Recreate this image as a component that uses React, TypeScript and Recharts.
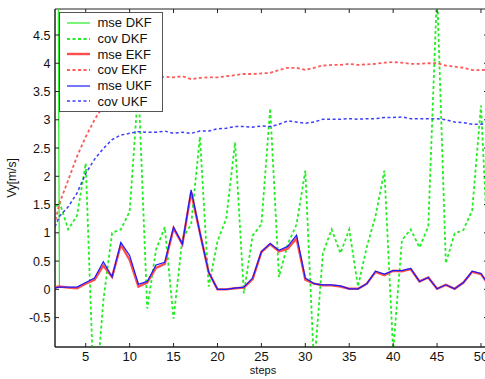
import React from 'react';
import {
  LineChart,
  Line,
  XAxis,
  YAxis,
  Legend,
  ReferenceArea,
} from 'recharts';

// steps along the x axis
const steps = [
  1, 2, 3, 4, 5, 6, 7, 8, 9, 10, 11, 12, 13, 14, 15, 16, 17, 18, 19, 20, 21, 22, 23, 24, 25,
  26, 27, 28, 29, 30, 31, 32, 33, 34, 35, 36, 37, 38, 39, 40, 41, 42, 43, 44, 45, 46, 47, 48,
  49, 50, 51,
];

const mseDKF = [
  40, 0.05, 0.03, 0.02, 0.1, 0.17, 0.42, 0.22, 0.79, 0.52, 0.05, 0.12, 0.38, 0.45, 1.08, 0.8,
  1.72, 1.0, 0.3, 0.0, 0.0, 0.02, 0.03, 0.18, 0.66, 0.8, 0.67, 0.72, 0.9, 0.17, 0.1, 0.07, 0.07,
  0.05, 0.01, 0.01, 0.1, 0.31, 0.25, 0.33, 0.32, 0.36, 0.14, 0.21, 0.01, 0.08, 0.01, 0.12, 0.31,
  0.27, 0.05,
];

const covDKF = [
  1.3, 1.55, 1.06, 1.3, 2.23, -2.2, -0.2, 1.0, 1.06, 1.38, 3.6, -0.34, 0.7, 1.1, -0.52, 0.9,
  1.15, 2.7, 0.05, 0.85, 1.25, 2.6, -0.07, 0.95, 1.15, 3.2, 0.22, 0.8, 1.15, 2.1, -1.4, 0.64,
  1.06, 0.64, 1.06, 0.05, 0.75, 1.3, 2.1, -1.1, 0.87, 1.06, 0.74, 1.11, 5.3, 0.46, 0.99, 1.05,
  1.4, 3.25, 0.0,
];

const mseEKF = [
  0.03, 0.05, 0.03, 0.02, 0.1, 0.17, 0.42, 0.22, 0.79, 0.52, 0.05, 0.12, 0.38, 0.45, 1.08, 0.8,
  1.72, 1.0, 0.3, 0.0, 0.0, 0.02, 0.03, 0.18, 0.66, 0.8, 0.67, 0.72, 0.9, 0.17, 0.1, 0.07, 0.07,
  0.05, 0.01, 0.01, 0.1, 0.31, 0.25, 0.33, 0.32, 0.36, 0.14, 0.21, 0.01, 0.08, 0.01, 0.12, 0.31,
  0.27, 0.05,
];

const covEKF = [
  0.85, 1.52, 1.93, 2.35, 2.7, 3.0, 3.25, 3.45, 3.6, 3.68, 3.72, 3.74, 3.75, 3.76, 3.75, 3.77,
  3.72, 3.74, 3.75, 3.75, 3.77, 3.79, 3.81, 3.81, 3.82, 3.83, 3.88, 3.92, 3.92, 3.88, 3.92, 3.96,
  3.97, 3.97, 3.99, 3.97, 3.98, 3.99, 4.01, 4.02, 4.01, 3.99, 3.99, 4.0, 4.0, 3.96, 3.94, 3.92,
  3.88, 3.88, 3.89,
];

const mseUKF = [
  0.0, 0.04, 0.04, 0.04, 0.12, 0.2, 0.49, 0.22, 0.83, 0.6, 0.09, 0.14, 0.43, 0.48, 1.1, 0.8,
  1.76, 1.0, 0.3, 0.0, 0.0, 0.02, 0.04, 0.2, 0.67, 0.81, 0.69, 0.76, 0.96, 0.2, 0.1, 0.08, 0.08,
  0.06, 0.01, 0.01, 0.1, 0.32, 0.27, 0.33, 0.33, 0.37, 0.14, 0.21, 0.01, 0.08, 0.01, 0.12, 0.32,
  0.28, 0.05,
];

const covUKF = [
  0.93, 1.29, 1.46, 1.7, 2.05, 2.3, 2.49, 2.65, 2.73, 2.76, 2.79, 2.78, 2.78, 2.8, 2.76, 2.78,
  2.76, 2.8, 2.8, 2.84, 2.85, 2.88, 2.88, 2.87, 2.89, 2.88, 2.92, 2.98, 2.96, 2.94, 2.96, 3.01,
  3.01, 3.01, 3.02, 3.01, 3.02, 3.02, 3.04, 3.04, 3.05, 3.02, 3.02, 3.02, 3.02, 3.0, 2.96, 2.95,
  2.92, 2.92, 2.94,
];

const xTicks = [5, 10, 15, 20, 25, 30, 35, 40, 45, 50];
const yTicks = [-0.5, 0, 0.5, 1, 1.5, 2, 2.5, 3, 3.5, 4, 4.5];

const data = steps.map((s, i) => ({
  step: s,
  mseDKF: mseDKF[i],
  covDKF: covDKF[i],
  mseEKF: mseEKF[i],
  covEKF: covEKF[i],
  mseUKF: mseUKF[i],
  covUKF: covUKF[i],
}));

const X_DOMAIN: [number, number] = [1.5, 50.8];
const Y_DOMAIN: [number, number] = [-1.02, 4.96];

const PLOT = { left: 55, right: 488, top: 9, bottom: 347 };
const FONT = '"Liberation Sans", Arial, sans-serif';

const series = [
  { key: 'mseDKF', name: 'mse DKF', color: '#22ee22', width: 1.2, dash: undefined },
  { key: 'covDKF', name: 'cov DKF', color: '#22ee22', width: 1.8, dash: '3 2.5' },
  { key: 'mseEKF', name: 'mse EKF', color: '#ff4d4d', width: 2.4, dash: undefined },
  { key: 'covEKF', name: 'cov EKF', color: '#ff5a5a', width: 1.8, dash: '3 2.5' },
  { key: 'mseUKF', name: 'mse UKF', color: '#1a1aff', width: 1.2, dash: undefined },
  { key: 'covUKF', name: 'cov UKF', color: '#3d3dff', width: 1.5, dash: '3 2.5' },
];

function XTick({ x, payload }: any) {
  return (
    <g>
      <line x1={x} x2={x} y1={PLOT.bottom} y2={PLOT.bottom - 4} stroke="#222" />
      <line x1={x} x2={x} y1={PLOT.top} y2={PLOT.top + 4} stroke="#222" />
      <text x={x} y={PLOT.bottom + 14} textAnchor="middle" fontSize={13} fontFamily={FONT} fill="#111">
        {payload.value}
      </text>
    </g>
  );
}

function YTick({ y, payload }: any) {
  return (
    <g>
      <line x1={PLOT.left} x2={PLOT.left + 4} y1={y} y2={y} stroke="#222" />
      <line x1={PLOT.right} x2={PLOT.right - 4} y1={y} y2={y} stroke="#222" />
      <text x={50.5} y={y} dy={4.5} textAnchor="end" fontSize={12.5} fontFamily={FONT} fill="#111">
        {payload.value}
      </text>
    </g>
  );
}

function StepsLabel() {
  return (
    <text x={263} y={374} textAnchor="middle" fontSize={11} fontFamily={FONT} fill="#111">
      steps
    </text>
  );
}

function VyLabel() {
  const cx = 12;
  const cy = (PLOT.top + PLOT.bottom) / 2;
  return (
    <text
      x={cx}
      y={cy}
      dy={4}
      transform={`rotate(-90 ${cx} ${cy})`}
      textAnchor="middle"
      fontSize={12}
      fontFamily={FONT}
      fill="#111"
    >
      Vy[m/s]
    </text>
  );
}

function LegendBox() {
  return (
    <div
      style={{
        boxSizing: 'border-box',
        width: 104,
        height: 100,
        border: '1.5px solid #555',
        background: '#fff',
        padding: '2px 0 1px 0',
        fontFamily: FONT,
        fontSize: 13,
        color: '#111',
      }}
    >
      {series.map((s) => (
        <div key={s.key} style={{ display: 'flex', alignItems: 'center', height: 15.7 }}>
          <svg width={30} height={6} style={{ marginLeft: 5.5, flex: 'none' }}>
            <line
              x1={1}
              x2={24}
              y1={3}
              y2={3}
              stroke={s.color}
              strokeWidth={s.width}
              strokeDasharray={s.dash}
            />
          </svg>
          <span style={{ marginLeft: 2, whiteSpace: 'nowrap', lineHeight: '15px' }}>{s.name}</span>
        </div>
      ))}
    </div>
  );
}

export default function App() {
  return (
    <div style={{ width: 485, height: 379, overflow: 'hidden', position: 'relative', background: '#fff' }}>
      <style>{'body{margin:0}'}</style>
      <LineChart
        width={490}
        height={379}
        data={data}
        margin={{ top: PLOT.top, right: 490 - PLOT.right, bottom: 0, left: 7 }}
      >
        <XAxis
          dataKey="step"
          type="number"
          domain={X_DOMAIN}
          allowDataOverflow
          ticks={xTicks}
          height={379 - PLOT.bottom}
          tickLine={false}
          axisLine={{ stroke: '#222' }}
          tick={<XTick />}
          label={<StepsLabel />}
        />
        <YAxis
          type="number"
          domain={Y_DOMAIN}
          allowDataOverflow
          ticks={yTicks}
          width={PLOT.left - 7}
          tickLine={false}
          axisLine={{ stroke: '#222' }}
          tick={<YTick />}
          label={<VyLabel />}
        />
        {series.map((s) => (
          <Line
            key={s.key}
            type="linear"
            dataKey={s.key}
            name={s.name}
            stroke={s.color}
            strokeWidth={s.width}
            strokeDasharray={s.dash}
            dot={false}
            activeDot={false}
            isAnimationActive={false}
          />
        ))}
        <ReferenceArea
          x1={X_DOMAIN[0]}
          x2={X_DOMAIN[1]}
          y1={Y_DOMAIN[0]}
          y2={Y_DOMAIN[1]}
          fill="none"
          stroke="#222"
          ifOverflow="visible"
        />
        <Legend
          layout="vertical"
          align="center"
          verticalAlign="middle"
          wrapperStyle={{ left: 59, top: 12, width: 104, height: 100 }}
          content={() => <LegendBox />}
        />
      </LineChart>
    </div>
  );
}
